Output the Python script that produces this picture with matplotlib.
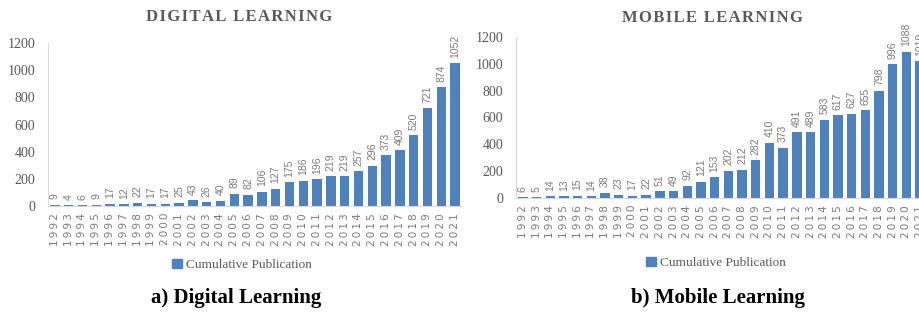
import numpy as np
import matplotlib.pyplot as plt
from matplotlib.patches import Patch

years = list(range(1992, 2022))
digital = [9, 4, 6, 9, 17, 12, 22, 17, 17, 25, 43, 26, 40, 89, 82, 106, 127, 175,
           186, 196, 219, 219, 257, 296, 373, 409, 520, 721, 874, 1052]
mobile = [6, 5, 14, 13, 15, 14, 38, 23, 17, 22, 51, 49, 92, 121, 153, 202, 212, 282,
          410, 373, 491, 489, 583, 617, 627, 655, 798, 996, 1088, 1019]
titles = ['DIGITAL LEARNING', 'MOBILE LEARNING']
captions = ['a) Digital Learning', 'b) Mobile Learning']
legend_label = 'Cumulative Publication'

W, H = 920, 312
bar_color = '#4f81bd'
grey = '#595959'
label_grey = '#7a7a7a'
axis_grey = '#d9d9d9'


def px_axes(fig, left, right, top, bottom):
    return fig.add_axes([left / W, 1 - bottom / H, (right - left) / W, (bottom - top) / H])


def spaced(s, sep):
    return sep.join(s)


fig = plt.figure(figsize=(W / 100, H / 100), dpi=100)

# pixel boxes: left, right, top(1200), bottom(0)
boxes = [(48, 462, 43, 206), (516, 927, 37, 198)]
title_pos = [(239, 17), (712, 18)]
legend_pos = [(242, 265), (716, 263)]
caption_pos = [(236, 298), (718, 298)]

for i, values in enumerate([digital, mobile]):
    l, r, t, b = boxes[i]
    ax = px_axes(fig, l, r, t, b)
    x = np.arange(len(years))
    ax.bar(x, values, width=0.68, color=bar_color)
    for xi, v in zip(x, values):
        ax.annotate(str(v), (xi, v), xytext=(0, 4), textcoords='offset points',
                    rotation=90, ha='center', va='bottom', fontsize=7.5,
                    family='Liberation Sans', color=label_grey, annotation_clip=False)
    ax.set_xlim(-0.5, len(years) - 0.5)
    ax.set_ylim(0, 1200)
    ax.set_yticks(range(0, 1201, 200))
    ax.set_yticklabels([str(v) for v in range(0, 1201, 200)],
                       family='Liberation Serif', fontsize=10, color=grey)
    ax.set_xticks(x)
    ax.set_xticklabels([spaced(str(y), '\u2009') for y in years], rotation=90,
                       family=['DejaVu Sans'], fontsize=7.5, color=label_grey)
    ax.tick_params(axis='both', length=0)
    ax.tick_params(axis='y', pad=9)
    ax.tick_params(axis='x', pad=5)
    for s in ['top', 'right']:
        ax.spines[s].set_visible(False)
    ax.spines['left'].set_color(axis_grey)
    ax.spines['bottom'].set_color(axis_grey)
    ax.patch.set_visible(False)

    tx, ty = title_pos[i]
    fig.text(tx / W, 1 - ty / H, spaced(titles[i], '\u200a'), ha='center', va='center',
             family=['Liberation Serif', 'DejaVu Serif'], fontweight='bold',
             fontsize=12, color=grey)

    lx, ly = legend_pos[i]
    fig.legend(handles=[Patch(color=bar_color, label=legend_label)],
               loc='center', bbox_to_anchor=(lx / W, 1 - ly / H), frameon=False,
               handlelength=0.7, handleheight=0.7, handletextpad=0.3,
               prop={'family': 'Liberation Serif', 'size': 9.5}, labelcolor=grey)

    cx, cy = caption_pos[i]
    fig.text(cx / W, 1 - cy / H, captions[i], ha='center', va='center',
             family='Liberation Serif', fontweight='bold', fontsize=15, color='black')

fig.savefig('out.png', dpi=100)
